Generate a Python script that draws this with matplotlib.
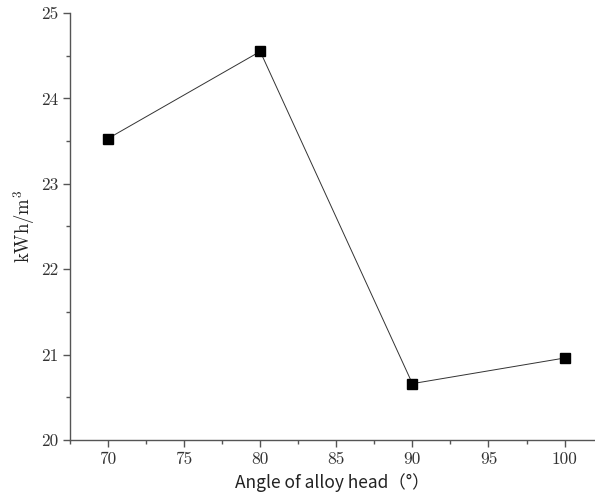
import matplotlib
matplotlib.use('Agg')
import matplotlib.pyplot as plt
from matplotlib.ticker import MultipleLocator

# data
angles = [70, 80, 90, 100]
energy = [23.53, 24.55, 20.66, 20.96]

plt.rcParams['mathtext.fontset'] = 'cm'

fig = plt.figure(figsize=(5.95, 5.0), dpi=100)
ax = fig.add_axes([0.1176, 0.12, 0.8824, 0.854])

ax.plot(angles, energy, color='#333333', linewidth=0.7,
        marker='s', markersize=7, markerfacecolor='black',
        markeredgecolor='black')

ax.set_xlim(67.5, 102)
ax.set_ylim(20, 25)
ax.xaxis.set_major_locator(MultipleLocator(5))
ax.xaxis.set_minor_locator(MultipleLocator(2.5))
ax.yaxis.set_major_locator(MultipleLocator(1))
ax.yaxis.set_minor_locator(MultipleLocator(0.5))

for side in ('top', 'right'):
    ax.spines[side].set_visible(False)
for side in ('left', 'bottom'):
    ax.spines[side].set_color('#555555')
    ax.spines[side].set_linewidth(1.0)

ax.tick_params(which='major', direction='out', length=5, width=1,
               color='#555555', labelsize=12.5, labelcolor='#333333')
ax.tick_params(which='minor', direction='out', length=3, width=1,
               color='#555555')
for lab in ax.get_xticklabels() + ax.get_yticklabels():
    lab.set_family('cmr10')

ax.set_xlabel('Angle of alloy head（°）', family=['Noto Sans CJK SC', 'DejaVu Sans'],
              fontsize=12.5, color='#222222', labelpad=4)
ax.set_ylabel(r'kWh/m$^3$', family='cmr10', fontsize=13.5, color='#222222',
              labelpad=3)

fig.savefig('out.png', dpi=100)
